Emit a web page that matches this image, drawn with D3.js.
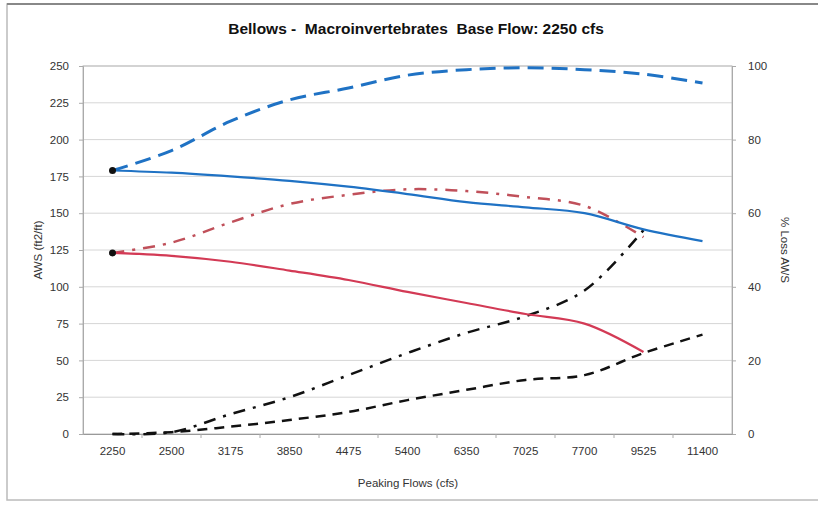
<!DOCTYPE html>
<html><head><meta charset="utf-8">
<script src="https://cdn.jsdelivr.net/npm/d3@7/dist/d3.min.js"></script>
<style>body{margin:0;background:#fff}svg{display:block;font-family:Arial,"Liberation Sans",sans-serif}</style>
</head><body><svg id="c" width="818" height="505"></svg>
<script>
const categories = ["2250","2500","3175","3850","4475","5400","6350","7025","7700","9525","11400"];
const awsBase = [179,177.5,175,172,168,163,157.5,154,150,139,131];          // blue solid (left)
const awsAlt  = [123,121,117,111,104.6,96.5,89,81.5,75,55.7,null];         // red solid (left)
const lossBase = [71.6,77,85,90.8,94,97.5,99,99.5,99,97.8,95.4];           // blue dashed (right)
const lossAlt  = [49.2,52,57.5,62.5,65,66.5,66,64.4,62,53.5,null];         // red dash-dot (right)
const lossBlackDD = [0,0.5,5.4,10,16,22,27.5,32,39,55.4,null];             // black dash-dot (right)
const lossBlackD  = [0,0.5,2,3.8,6,9.2,12,14.7,16,22,27];                  // black dashed (right)
const leftTicks = [0,25,50,75,100,125,150,175,200,225,250];
const rightTicks = [0,20,40,60,80,100];

const svg = d3.select("#c");
const L=83,R=732,T=66,B=434;
// outer frame
svg.append("rect").attr("x",7).attr("y",4).attr("width",830).attr("height",496)
  .attr("fill","none").attr("stroke","#bbb").attr("stroke-width",1.5);
svg.append("line").attr("x1",7).attr("x2",818).attr("y1",4).attr("y2",4).attr("stroke","#888").attr("stroke-width",2);

const x = d3.scaleBand().domain(categories).range([L,R]);
const yL = d3.scaleLinear().domain([0,250]).range([B,T]);
const yR = d3.scaleLinear().domain([0,100]).range([B,T]);

// gridlines
svg.append("g").selectAll("line").data(leftTicks.slice(1)).join("line")
  .attr("x1",L).attr("x2",R).attr("y1",d=>yL(d)).attr("y2",d=>yL(d))
  .attr("stroke","#d6d6d6").attr("stroke-width",1);
// plot border
svg.append("rect").attr("x",L).attr("y",T).attr("width",R-L).attr("height",B-T)
  .attr("fill","none").attr("stroke","#bcbcbc").attr("stroke-width",1);

// axes
const axL = svg.append("g").attr("transform",`translate(${L},0)`)
  .call(d3.axisLeft(yL).tickValues(leftTicks).tickSize(4).tickPadding(10));
const axR = svg.append("g").attr("transform",`translate(${R},0)`)
  .call(d3.axisRight(yR).tickValues(rightTicks).tickSize(4).tickPadding(12));
const axX = svg.append("g").attr("transform",`translate(0,${B})`)
  .call(d3.axisBottom(x).tickSize(0).tickPadding(13));
[axL,axR,axX].forEach(a=>{
  a.selectAll("path").attr("stroke","#aaa");
  a.selectAll("line").attr("stroke","#aaa");
  a.selectAll("text").attr("font-size",11.5).attr("fill","#333");
});
axX.select("path").attr("stroke","#999");
// x tick marks between categories
svg.append("g").selectAll("line").data(categories.slice(1)).join("line")
  .attr("x1",d=>x(d)).attr("x2",d=>x(d)).attr("y1",B).attr("y2",B+4).attr("stroke","#aaa");

// titles
svg.append("text").attr("x",416).attr("y",34).attr("text-anchor","middle")
  .attr("font-size",15.5).attr("font-weight","bold").attr("fill","#111")
  .attr("style","white-space:pre").text("Bellows -  Macroinvertebrates  Base Flow: 2250 cfs");
svg.append("text").attr("x",408).attr("y",487).attr("text-anchor","middle")
  .attr("font-size",11.5).attr("fill","#333").text("Peaking Flows (cfs)");
svg.append("text").attr("transform","translate(42,250) rotate(-90)").attr("text-anchor","middle")
  .attr("font-size",11.5).attr("fill","#333").text("AWS (ft2/ft)");
svg.append("text").attr("transform","translate(781,250) rotate(90)").attr("text-anchor","middle")
  .attr("font-size",11.5).attr("fill","#333").text("% Loss AWS");

const cx = c => x(c)+x.bandwidth()/2;
function drawLine(vals, y, color, dash, width){
  const pts = categories.map((c,i)=>[c,vals[i]]).filter(d=>d[1]!=null);
  const gen = d3.line().x(d=>cx(d[0])).y(d=>y(d[1])).curve(d3.curveCatmullRom.alpha(0.5));
  svg.append("path").datum(pts).attr("d",gen).attr("fill","none")
    .attr("stroke",color).attr("stroke-width",width)
    .attr("stroke-dasharray",dash).attr("stroke-linecap","butt");
}
drawLine(lossBlackD, yR, "#111", "10,7", 2.5);
drawLine(lossBlackDD, yR, "#111", "12,8,3,8", 2.5);
drawLine(lossAlt, yR, "#c0505a", "12,8,3,8", 2.5);
drawLine(awsAlt, yL, "#d33a55", null, 2.2);
drawLine(lossBase, yR, "#1f72c4", "16,8", 3);
drawLine(awsBase, yL, "#1f72c4", null, 2.2);

// start markers
svg.append("g").selectAll("circle").data([awsBase[0],awsAlt[0]]).join("circle")
  .attr("cx",cx(categories[0])).attr("cy",d=>yL(d)).attr("r",3.5).attr("fill","#111");
</script></body></html>
